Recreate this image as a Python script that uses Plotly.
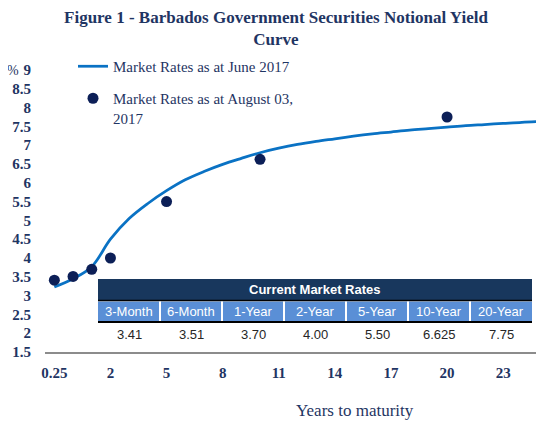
import plotly.graph_objects as go

# ---------------- data ----------------
maturities = ["0.25", "0.5", "1"] + [str(y) for y in range(2, 26)]
june_2017 = [3.23, 3.45, 3.77, 4.50, 5.05, 5.45, 5.79, 6.08, 6.30, 6.49, 6.65,
             6.80, 6.92, 7.02, 7.10, 7.17, 7.24, 7.30, 7.35, 7.40, 7.44, 7.48,
             7.52, 7.55, 7.58, 7.61, 7.63]
aug_maturities = ["0.25", "0.5", "1", "2", "5", "10", "20"]
aug_2017 = [3.41, 3.51, 3.70, 4.00, 5.50, 6.625, 7.75]
table_labels = ["3-Month", "6-Month", "1-Year", "2-Year", "5-Year", "10-Year", "20-Year"]
x_tick_labels = ["0.25", "2", "5", "8", "11", "14", "17", "20", "23"]
y_ticks = [1.5, 2, 2.5, 3, 3.5, 4, 4.5, 5, 5.5, 6, 6.5, 7, 7.5, 8, 8.5, 9]

NAVY = "#1f3563"
DOT = "#0c1f57"
LINE = "#0a72c4"
SERIF = "Liberation Serif, Times New Roman, serif"
SANS = "Liberation Sans Narrow, Arial Narrow, Liberation Sans, Arial, sans-serif"

OFF = 8                      # page body margin in the browser
W, H = 544 - OFF, 421 - OFF  # figure size
L, R, T, B = 45, 544, 70, 352  # plot area in page pixels


def px(x):
    return (x - L) / (R - L)


def py(y):
    return (B - y) / (B - T)


def fmt(v):
    s = f"{v:.2f}"
    if round(v, 2) != v:
        s = f"{v:.3f}"
    return s


fig = go.Figure()
fig.add_trace(go.Scatter(
    x=maturities, y=june_2017, mode="lines",
    line=dict(color=LINE, width=2.75, shape="spline", smoothing=1.0),
    name="Market Rates as at June 2017", legend="legend", showlegend=True))
fig.add_trace(go.Scatter(
    x=aug_maturities, y=aug_2017, mode="markers",
    marker=dict(color=DOT, size=11),
    name="Market Rates as at August 03,<br>2017", legend="legend2", showlegend=True))

shapes = []
annotations = []

# table geometry (page pixels)
tx0, tx1 = 98, 532
ncol = len(table_labels)
cw = (tx1 - tx0) / ncol
shapes.append(dict(type="rect", xref="paper", yref="paper", x0=px(tx0), x1=px(tx1),
                   y0=py(300), y1=py(279), fillcolor="#18375d", line=dict(width=0), layer="above"))
shapes.append(dict(type="rect", xref="paper", yref="paper", x0=px(tx0), x1=px(tx1),
                   y0=py(321), y1=py(301.5), fillcolor="#5a8fd6", line=dict(width=0), layer="above"))
shapes.append(dict(type="line", xref="paper", yref="paper", x0=px(tx0), x1=px(tx1),
                   y0=py(300.5), y1=py(300.5), line=dict(color="#000000", width=1.5), layer="above"))
shapes.append(dict(type="line", xref="paper", yref="paper", x0=px(tx0), x1=px(tx1),
                   y0=py(322), y1=py(322), line=dict(color="#000000", width=2), layer="above"))
for i in range(1, ncol):
    xx = tx0 + i * cw
    shapes.append(dict(type="line", xref="paper", yref="paper", x0=px(xx), x1=px(xx),
                       y0=py(321), y1=py(301.5), line=dict(color="#ffffff", width=2), layer="above"))

annotations.append(dict(text="<b>Current Market Rates</b>", xref="paper", yref="paper",
                        x=px((tx0 + tx1) / 2), y=py(289.5), showarrow=False,
                        font=dict(family=SANS, size=13, color="#ffffff"),
                        xanchor="center", yanchor="middle"))
for i, (lab, v) in enumerate(zip(table_labels, aug_2017)):
    cx = tx0 + (i + 0.5) * cw
    annotations.append(dict(text=lab, xref="paper", yref="paper", x=px(cx), y=py(311.5),
                            showarrow=False, font=dict(family=SANS, size=13, color="#ffffff"),
                            xanchor="center", yanchor="middle"))
    annotations.append(dict(text=fmt(v), xref="paper", yref="paper", x=px(cx), y=py(334),
                            showarrow=False, font=dict(family=SANS, size=13, color="#262626"),
                            xanchor="center", yanchor="middle"))

annotations.append(dict(text="%", xref="paper", yref="paper", x=px(13), y=py(70),
                        showarrow=False, font=dict(family=SERIF, size=14, color=NAVY),
                        xanchor="center", yanchor="middle"))
annotations.append(dict(text="Years to maturity", xref="paper", yref="paper", x=px(355), y=py(410),
                        showarrow=False, font=dict(family=SERIF, size=17, color=NAVY),
                        xanchor="center", yanchor="middle"))

fig.update_layout(
    width=W, height=H,
    margin=dict(l=L - OFF, r=0, t=T - OFF, b=421 - B, pad=0),
    plot_bgcolor="#ffffff", paper_bgcolor="#ffffff",
    showlegend=True,
    title=dict(text="<b>Figure 1 - Barbados Government Securities Notional Yield<br>Curve</b>",
               x=(276 - OFF) / W, xanchor="center", xref="container",
               y=1 - 15 / H, yanchor="top", yref="container",
               font=dict(family=SERIF, size=17, color=NAVY)),
    xaxis=dict(type="category", categoryorder="array", categoryarray=maturities,
               range=[-0.5, (R - L) / 18.7 - 0.5],
               tickmode="array", tickvals=x_tick_labels, ticktext=x_tick_labels,
               showgrid=False, zeroline=False, showline=True, linecolor="#8c8c8c", linewidth=1.5,
               ticks="outside", ticklen=6, tickcolor="rgba(0,0,0,0)",
               tickfont=dict(family=SERIF, size=15, color=NAVY, weight="bold")),
    yaxis=dict(range=[1.5, 9], tickmode="array", tickvals=y_ticks,
               ticktext=[f"{t:g}" for t in y_ticks],
               showgrid=False, zeroline=False, showline=False,
               ticks="outside", ticklen=10, tickcolor="rgba(0,0,0,0)",
               tickfont=dict(family=SERIF, size=15, color=NAVY, weight="bold")),
    legend=dict(x=px(73), y=py(50), xanchor="left", yanchor="top", bgcolor="rgba(0,0,0,0)",
                font=dict(family=SERIF, size=15, color=NAVY)),
    legend2=dict(x=px(73), y=py(82), xanchor="left", yanchor="top", bgcolor="rgba(0,0,0,0)",
                 valign="top", font=dict(family=SERIF, size=15, color=NAVY)),
    shapes=shapes, annotations=annotations,
)
fig.write_html("out.html")
